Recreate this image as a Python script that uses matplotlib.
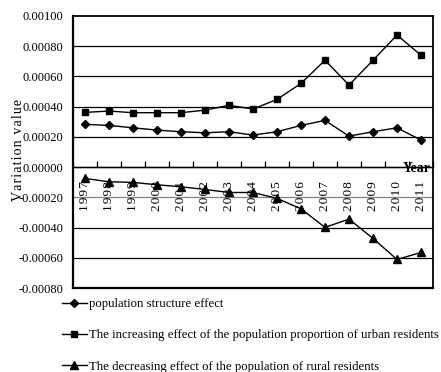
"""Plots population structure effects on variation value, 1997-2011."""


import matplotlib
matplotlib.use('Agg')
import matplotlib.pyplot as plt
import numpy as np


YEARS = ['1997', '1998', '1999', '2000', '2001', '2002', '2003', '2004',
         '2005', '2006', '2007', '2008', '2009', '2010', '2011']

STRUCTURE_EFFECT = [
    0.000283, 0.000276, 0.000260, 0.000245, 0.000234, 0.000227, 0.000234,
    0.000212, 0.000234, 0.000276, 0.000309, 0.000205, 0.000234, 0.000260,
    0.000179]

URBAN_EFFECT = [
    0.000362, 0.000371, 0.000360, 0.000360, 0.000360, 0.000377, 0.000409,
    0.000384, 0.000448, 0.000554, 0.000707, 0.000543, 0.000707, 0.000874,
    0.000740]

RURAL_EFFECT = [
    -0.000075, -0.000097, -0.000101, -0.000117, -0.000130, -0.000148,
    -0.000168, -0.000168, -0.000207, -0.000276, -0.000399, -0.000344,
    -0.000472, -0.000611, -0.000565]

LABELS = [
    'population structure effect',
    'The increasing effect of the population proportion of urban residents',
    'The decreasing effect of the population of rural residents',
]

Y_TICKS = [-0.0008, -0.0006, -0.0004, -0.0002, 0.0, 0.0002, 0.0004,
           0.0006, 0.0008, 0.0010]

_FONT = ['Liberation Serif', 'DejaVu Sans']
_HAIR = '\u200a'


def _main():

    plt.rcParams['font.family'] = _FONT
    plt.rcParams['font.size'] = 9

    fig = plt.figure(figsize=(4.41, 3.72), dpi=100)
    ax = fig.add_axes([0.1655, 0.2258, 0.8164, 0.7312])

    x = np.arange(len(YEARS))

    _plot_series(ax, x, STRUCTURE_EFFECT, 'D', 4.2, LABELS[0])
    _plot_series(ax, x, URBAN_EFFECT, 's', 4.6, LABELS[1])
    _plot_series(ax, x, RURAL_EFFECT, '^', 5.2, LABELS[2])

    _format_axes(ax, x)

    fig.legend(loc='upper left', bbox_to_anchor=(0.128, 0.212),
               frameon=False, fontsize=9.2, handlelength=2.0,
               handletextpad=0.15, labelspacing=1.5, borderaxespad=0)

    fig.savefig('out.png', dpi=100)


def _spaced(text):
    # Excel-style loose tracking
    return _HAIR.join(text)


def _plot_series(ax, x, y, marker, size, label):
    ax.plot(x, y, color='black', lw=1.0, marker=marker, ms=size,
            label=label, zorder=4)


def _format_axes(ax, x):

    ax.set_xlim(-0.5, len(x) - 0.5)
    ax.set_ylim(-0.0008, 0.0010)

    # horizontal grid at every labelled value
    ax.set_yticks(Y_TICKS)
    ax.set_yticklabels(['%.5f' % v for v in Y_TICKS])
    for v in Y_TICKS[1:-1]:
        color = '#808080' if v == -0.0002 else 'black'
        ax.axhline(v, color=color, lw=0.9, zorder=1)
    ax.tick_params(axis='y', length=0, pad=7, labelsize=9)

    # category axis runs along zero, ticks point upward between years
    ax.spines['bottom'].set_position(('data', 0))
    ax.spines['bottom'].set_linewidth(1.0)
    ax.axhline(-0.0008, color='black', lw=1.6, clip_on=False, zorder=3)
    ax.set_xticks(x)
    ax.set_xticklabels([_spaced(y) for y in YEARS], rotation=90, va='top',
                       ha='center')
    ax.set_xticks(np.arange(-0.5, len(x)), minor=True)
    ax.tick_params(axis='x', which='major', length=0, pad=10,
                   labelsize=9.5)
    ax.tick_params(axis='x', which='minor', direction='in', length=4,
                   width=0.9)

    for side in ['left', 'right', 'top']:
        ax.spines[side].set_linewidth(1.3)
    ax.spines['left'].set_linewidth(1.6)

    ax.text(0.995, 0.441, 'Year', transform=ax.transAxes, ha='right',
            va='center', fontsize=10, fontweight='bold')

    ax.set_ylabel(_spaced('Variation value'), fontsize=10)
    ax.yaxis.set_label_coords(-0.133, 0.508)


if __name__ == '__main__':
    _main()
